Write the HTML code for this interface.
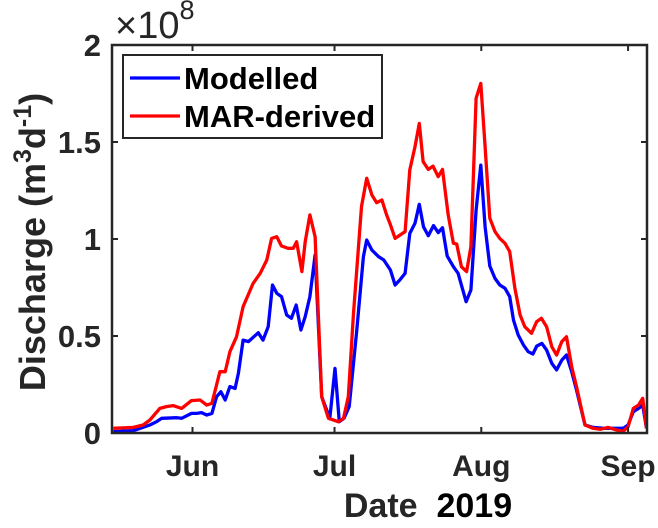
<!DOCTYPE html>
<html><head><meta charset="utf-8"><style>
html,body{margin:0;padding:0;background:#fff;}
svg{display:block;font-family:"Liberation Sans",Arial,sans-serif;}
</style></head><body>
<svg id="chart" width="658" height="528" viewBox="0 0 658 528" xmlns="http://www.w3.org/2000/svg">
<g id="plot"></g>
</svg>
<script>
// days since 15 May 2019, values in units of 1e8 m^3/d
const redDays = [0.3,4.5,6.6,8.0,10.1,11.5,12.9,14.7,16.8,18.6,20.0,21.1,22.8,23.9,24.9,26.3,27.7,29.8,31.3,32.7,33.7,34.8,35.8,37.2,38.3,39.0,40.1,40.8,41.8,42.9,44.3,45.7,47.8,48.9,49.9,51.0,52.7,53.8,54.9,55.9,57.0,58.0,58.7,59.8,61.9,62.9,64.0,64.9,65.7,66.8,67.8,68.9,69.8,71.0,72.1,72.8,73.8,74.9,75.8,76.9,77.9,78.8,79.8,80.9,81.9,83.0,84.0,85.1,86.2,87.2,88.6,89.7,90.7,91.8,92.9,93.9,95.0,96.0,97.1,98.1,99.9,101.6,103.1,104.8,106.6,108.0,109.0,110.1,111.2,112.1,112.9];
const redValues = [0.024,0.029,0.041,0.067,0.127,0.136,0.141,0.127,0.167,0.170,0.144,0.153,0.316,0.316,0.419,0.496,0.651,0.771,0.823,0.892,1.003,1.012,0.964,0.952,0.952,0.986,0.832,0.986,1.124,1.012,0.187,0.076,0.058,0.076,0.187,0.617,1.167,1.313,1.227,1.187,1.201,1.124,1.081,1.003,1.038,1.356,1.476,1.596,1.399,1.359,1.376,1.321,1.359,1.124,0.978,0.974,0.857,0.832,0.960,1.725,1.802,1.476,1.107,1.038,1.003,0.978,0.935,0.746,0.608,0.548,0.514,0.574,0.591,0.548,0.445,0.402,0.471,0.496,0.342,0.239,0.041,0.024,0.019,0.029,0.015,0.010,0.032,0.127,0.144,0.179,0.024];
const blueDays = [0.3,4.5,8.0,9.4,10.5,13.7,14.7,16.8,17.9,18.9,20.0,21.1,22.1,23.0,23.9,24.9,26.0,26.7,27.7,28.8,30.9,31.9,33.0,33.9,34.8,35.8,36.9,37.9,38.9,39.9,40.8,41.8,42.9,44.3,46.0,47.1,48.0,49.0,50.1,51.7,53.1,53.8,54.9,56.3,57.4,58.8,59.8,60.8,61.9,62.9,64.0,64.9,65.8,66.8,67.9,68.9,69.8,70.8,72.1,73.1,74.8,75.8,76.9,77.9,78.8,79.8,80.9,81.9,83.0,84.0,84.8,85.8,86.9,87.9,88.9,89.7,90.8,91.8,92.9,93.9,95.0,96.0,97.1,98.1,99.9,101.6,103.8,105.9,108.0,109.0,110.1,111.2,112.1,112.9];
const blueValues = [0.007,0.012,0.041,0.058,0.076,0.079,0.076,0.101,0.101,0.105,0.093,0.101,0.187,0.213,0.170,0.239,0.230,0.308,0.479,0.471,0.517,0.479,0.548,0.763,0.720,0.703,0.608,0.591,0.660,0.531,0.600,0.703,0.918,0.187,0.076,0.333,0.058,0.076,0.136,0.531,0.909,0.995,0.943,0.909,0.892,0.840,0.763,0.789,0.823,1.029,1.081,1.179,1.063,1.017,1.069,1.033,1.058,0.912,0.857,0.823,0.677,0.737,1.149,1.381,1.063,0.861,0.797,0.763,0.746,0.703,0.582,0.505,0.454,0.419,0.407,0.448,0.462,0.428,0.359,0.325,0.376,0.402,0.316,0.222,0.041,0.029,0.024,0.024,0.024,0.041,0.110,0.127,0.144,0.024];
const xTickDays = [17,47,78,109];
const xTickLabels = ["Jun","Jul","Aug","Sep"];
const yTickValues = [0,0.5,1,1.5,2];
const yTickLabels = ["0","0.5","1","1.5","2"];

const L=112,R=647,T=45,B=433, DMIN=0, DMAX=113, YMAX=2;
const xs=d=>L+(d-DMIN)/(DMAX-DMIN)*(R-L);
const ys=v=>B-v/YMAX*(B-T);
const NS="http://www.w3.org/2000/svg";
const g=document.getElementById('plot');
function mk(tag,attrs,parent){const e=document.createElementNS(NS,tag);for(const k in attrs)e.setAttribute(k,attrs[k]);(parent||g).appendChild(e);return e;}

function series(days,vals,color,name){
  const d=days.map((x,i)=>(i?'L':'M')+xs(x).toFixed(1)+' '+ys(vals[i]).toFixed(1)).join(' ');
  const p=mk('path',{d:d,fill:'none',stroke:color,'stroke-width':3.3,'stroke-linejoin':'round'});
  
  
}
series(blueDays,blueValues,'#0000ff','modelled-line');
series(redDays,redValues,'#ff0000','mar-derived-line');

const box=mk('rect',{x:L,y:T,width:R-L,height:B-T,fill:'none',stroke:'#262626','stroke-width':2.5});



xTickDays.forEach((d,i)=>{
  const x=xs(d);
  mk('line',{x1:x,x2:x,y1:B,y2:B-6,stroke:'#262626','stroke-width':2});
  mk('line',{x1:x,x2:x,y1:T,y2:T+6,stroke:'#262626','stroke-width':2});
  const t=mk('text',{x:x,y:476,'text-anchor':'middle','font-size':30,'font-weight':'bold',fill:'#262626'});
  t.textContent=xTickLabels[i];
  
  
});
yTickValues.forEach((v,i)=>{
  const y=ys(v);
  mk('line',{x1:L,x2:L+6,y1:y,y2:y,stroke:'#262626','stroke-width':2});
  mk('line',{x1:R,x2:R-6,y1:y,y2:y,stroke:'#262626','stroke-width':2});
  const t=mk('text',{x:101,y:y+11,'text-anchor':'end','font-size':31,'font-weight':'bold',fill:'#262626'});
  t.textContent=yTickLabels[i];
  
  
});
</script>
<svg style="position:absolute;left:0;top:0" width="658" height="528">
<g font-family="Liberation Sans, Arial, sans-serif" fill="#262626">
<text x="115" y="38" font-size="38">×10<tspan font-size="27" dy="-19">8</tspan></text>
<text transform="translate(45,242) rotate(-90)" text-anchor="middle" font-size="36" font-weight="bold">Discharge (m<tspan font-size="25" dy="-14">3</tspan><tspan dy="14">d</tspan><tspan font-size="25" dy="-14">-1</tspan><tspan dy="14">)</tspan></text>
<text x="428" y="517" text-anchor="middle" font-size="34" font-weight="bold" xml:space="preserve">Date  <tspan fill="#000">2019</tspan></text>
</g>
<g>
<rect x="123" y="55" width="259" height="83" fill="#fff" stroke="#262626" stroke-width="2"/>
<line x1="130" x2="180" y1="78" y2="78" stroke="#0000ff" stroke-width="3.3"/>
<line x1="130" x2="180" y1="116" y2="116" stroke="#ff0000" stroke-width="3.3"/>
<text x="184" y="89" font-family="Liberation Sans, Arial, sans-serif" font-size="31" font-weight="bold" fill="#000">Modelled</text>
<text x="184" y="127" font-family="Liberation Sans, Arial, sans-serif" font-size="31" font-weight="bold" fill="#000">MAR-derived</text>
</g>
</svg>
</body></html>
